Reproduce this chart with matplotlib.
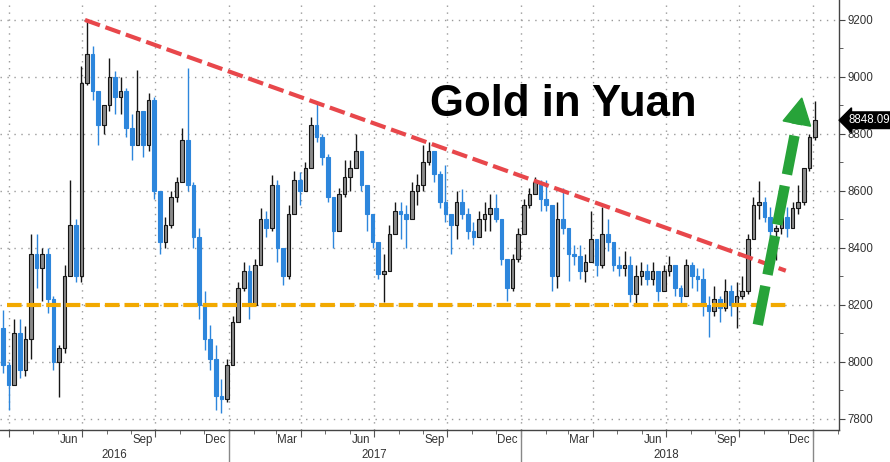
import matplotlib
matplotlib.use('Agg')
import numpy as np
import pandas as pd
import matplotlib.pyplot as plt
import matplotlib.dates as mdates
import matplotlib.transforms as mtransforms
from matplotlib.patches import Polygon

plt.rcParams['font.family'] = ['Liberation Sans', 'DejaVu Sans']

# weekly candles (CNY per oz), first week starts 2016-03-21
first_open = 8120
close = [
    7990, 7920, 8100, 7970, 8080, 8380, 8330, 8380, 8220, 8000,
    8050, 8300, 8480, 8300, 8980, 9080, 8950, 8830, 8900, 9000,
    8930, 8950, 8820, 8760, 8880, 8760, 8920, 8600, 8420, 8480,
    8580, 8630, 8780, 8620, 8440, 8200, 8080, 8010, 7880, 7870,
    7990, 8140, 8260, 8320, 8200, 8340, 8500, 8470, 8620, 8400,
    8300, 8520, 8640, 8600, 8680, 8830, 8790, 8720, 8580, 8460,
    8590, 8650, 8680, 8740, 8620, 8520, 8420, 8310, 8320, 8450,
    8530, 8520, 8500, 8600, 8620, 8700, 8740, 8660, 8560, 8520,
    8480, 8560, 8520, 8460, 8440, 8500, 8520, 8540, 8500, 8360,
    8260, 8360, 8450, 8550, 8590, 8630, 8570, 8550, 8300, 8500,
    8470, 8380, 8370, 8320, 8350, 8430, 8340, 8450, 8420, 8340,
    8330, 8340, 8240, 8300, 8320, 8290, 8320, 8250, 8320, 8340,
    8260, 8230, 8340, 8300, 8290, 8200, 8180, 8220, 8190, 8250,
    8200, 8230, 8250, 8430, 8550, 8560, 8510, 8460, 8470, 8510,
    8470, 8540, 8560, 8680, 8790, 8848.09]
high = [
    8182, 8000, 8150, 8150, 8125, 8450, 8450, 8400, 8400, 8230,
    8060, 8340, 8640, 8500, 9040, 9200, 9110, 8950, 8900, 9065,
    9020, 9000, 8960, 8870, 9025, 8880, 8945, 8930, 8600, 8510,
    8600, 8650, 8820, 9030, 8630, 8470, 8250, 8130, 8060, 7940,
    8010, 8160, 8280, 8350, 8340, 8360, 8540, 8530, 8655, 8640,
    8380, 8550, 8670, 8665, 8700, 8860, 8905, 8800, 8730, 8540,
    8610, 8710, 8710, 8800, 8740, 8620, 8520, 8420, 8380, 8480,
    8560, 8560, 8550, 8630, 8660, 8760, 8770, 8740, 8670, 8690,
    8520, 8600, 8605, 8540, 8490, 8530, 8560, 8590, 8590, 8500,
    8350, 8380, 8470, 8570, 8610, 8650, 8640, 8640, 8540, 8560,
    8610, 8440, 8410, 8410, 8380, 8530, 8430, 8545, 8500, 8410,
    8370, 8390, 8370, 8340, 8350, 8345, 8350, 8300, 8340, 8370,
    8340, 8270, 8360, 8350, 8330, 8330, 8230, 8265, 8230, 8290,
    8270, 8280, 8300, 8450, 8580, 8636, 8580, 8545, 8480, 8530,
    8545, 8560, 8620, 8680, 8800, 8917]
low = [
    7960, 7832, 7930, 7945, 7950, 8010, 8260, 8215, 8170, 7970,
    7877, 8030, 8310, 8280, 8280, 8970, 8920, 8760, 8800, 8880,
    8870, 8870, 8790, 8710, 8760, 8720, 8740, 8570, 8380, 8400,
    8470, 8560, 8630, 8600, 8400, 8150, 8040, 7970, 7830, 7820,
    7860, 7990, 8140, 8250, 8150, 8200, 8340, 8440, 8460, 8350,
    8270, 8290, 8520, 8550, 8600, 8680, 8770, 8690, 8560, 8400,
    8460, 8580, 8600, 8680, 8600, 8460, 8400, 8290, 8210, 8320,
    8450, 8430, 8400, 8500, 8550, 8600, 8690, 8630, 8540, 8490,
    8380, 8430, 8500, 8430, 8410, 8440, 8460, 8460, 8490, 8340,
    8212, 8250, 8350, 8450, 8540, 8590, 8530, 8530, 8250, 8260,
    8450, 8284, 8340, 8290, 8280, 8360, 8300, 8330, 8390, 8320,
    8300, 8300, 8210, 8202, 8270, 8270, 8270, 8215, 8250, 8300,
    8230, 8205, 8230, 8260, 8250, 8160, 8086, 8160, 8140, 8180,
    8160, 8120, 8220, 8240, 8430, 8500, 8490, 8440, 8356, 8450,
    8437, 8470, 8520, 8550, 8670, 8777]

# trend annotations (date, value)
resist_line = (['2016-07-05', '2018-11-28'], [9200, 8320])
support_line = (['2016-03-29', '2018-11-28'], [8200, 8200])
arrow_pts = (['2018-10-24', '2018-12-18'], [8130, 8926])

year_labels = ['2016', '2017', '2018']
year_mid = ['2016-07-01', '2017-07-01', '2018-07-01']
month_labels = ['Jun', 'Sep', 'Dec', 'Mar', 'Jun', 'Sep', 'Dec', 'Mar', 'Jun', 'Sep', 'Dec']
month_mid = ['2016-06-15', '2016-09-15', '2016-12-15', '2017-03-15', '2017-06-15', '2017-09-15',
             '2017-12-15', '2018-03-15', '2018-06-15', '2018-09-15', '2018-12-15']
last_price = 8848.09

close = np.array(close, dtype=float)
high = np.array(high, dtype=float)
low = np.array(low, dtype=float)
opens = np.r_[first_open, close[:-1]]
weeks = pd.date_range('2016-03-21', periods=len(close), freq='7D')
xd = mdates.date2num(weeks) + 3.5
up = close >= opens

fig = plt.figure(figsize=(8.9, 4.62), dpi=100)
ax = fig.add_axes([0, 32 / 462, 839 / 890, 430 / 462])

# ticks / grid first (set_ticks can widen the view), limits afterwards
ax.set_yticks(np.arange(7800, 9201, 200))
ax.set_yticks(np.arange(7800, 9201, 100), minor=True)
ax.yaxis.grid(True, which='major', linestyle=(0, (1, 4)), color='#9a9a9a', lw=1)
quarters = pd.date_range('2016-01-01', '2019-01-01', freq='QS')
months = pd.date_range('2016-01-01', '2019-03-01', freq='MS')
ax.set_xticks(mdates.date2num(quarters))
ax.set_xticks(mdates.date2num(months), minor=True)
ax.xaxis.grid(True, which='major', linestyle=(0, (1, 4)), color='#9a9a9a', lw=1)
ax.set_axisbelow(True)
ax.set_xticklabels([])

jan17 = mdates.date2num(pd.Timestamp('2017-01-01'))
ax.set_xlim(jan17 - 229 / 0.8, jan17 + 610 / 0.8)
ax.set_ylim(7761, 9270)

# candles
up_col, up_edge, dn_col = '#8a8a8a', '#161616', '#2d86dc'
lo_w = np.minimum(low, np.minimum(opens, close))
hi_w = np.maximum(high, np.maximum(opens, close))
ax.vlines(xd[up], lo_w[up], hi_w[up], color=up_edge, lw=1, zorder=3)
ax.vlines(xd[~up], lo_w[~up], hi_w[~up], color=dn_col, lw=1, zorder=3)
body_lo = np.minimum(opens, close)
body_h = np.abs(close - opens)
ax.bar(xd[up], body_h[up], bottom=body_lo[up], width=4.6, color=up_col, edgecolor=up_edge, lw=0.8, zorder=4)
ax.bar(xd[~up], body_h[~up], bottom=body_lo[~up], width=4.6, color=dn_col, edgecolor=dn_col, lw=0.8, zorder=4)
ax.set_xlim(jan17 - 229 / 0.8, jan17 + 610 / 0.8)
ax.set_ylim(7761, 9270)

# trend lines
ax.plot(mdates.datestr2num(resist_line[0]), resist_line[1], color='#e8474b', lw=3,
        linestyle=(0, (3.8, 1.4)), dash_capstyle='butt', zorder=5)
ax.plot(mdates.datestr2num(support_line[0]), support_line[1], color='#f2a900', lw=3,
        linestyle=(0, (3.5, 1.2)), dash_capstyle='butt', zorder=5)

# green dashed arrow
p0 = ax.transData.transform((mdates.datestr2num(arrow_pts[0][0]), arrow_pts[1][0]))
p1 = ax.transData.transform((mdates.datestr2num(arrow_pts[0][1]), arrow_pts[1][1]))
d = p1 - p0
u = d / np.hypot(*d)
nrm = np.array([-u[1], u[0]])
head_len, head_w = 26, 14
base = p1 - u * head_len
shaft = np.array([p0, base + u * 2])
ax.plot(shaft[:, 0], shaft[:, 1], transform=None, color='#27a339', lw=7.5,
        linestyle=(0, (3.8, 1.1)), dash_capstyle='butt', zorder=6)
head = Polygon([base + nrm * head_w, p1, base - nrm * head_w], closed=True,
               transform=None, color='#27a339', zorder=6)
ax.add_patch(head)

# title
fig.text(563 / 890, (462 - 105) / 462, 'Gold in Yuan', fontsize=31.5, fontweight='bold',
         ha='center', va='center', color='black')

# axes styling
for s in ['left', 'top']:
    ax.spines[s].set_visible(False)
for s in ['right', 'bottom']:
    ax.spines[s].set_color('#444444')
    ax.spines[s].set_linewidth(1)
ax.yaxis.tick_right()
ax.tick_params(axis='y', which='major', direction='out', length=4, color='#444444',
               labelsize=8.3, labelcolor='#333333', pad=2)
ax.tick_params(axis='y', which='minor', direction='out', length=3, color='#444444')
ax.tick_params(axis='x', which='major', direction='out', length=5, color='#555555')
ax.tick_params(axis='x', which='minor', direction='out', length=3, color='#555555')

tb = mtransforms.blended_transform_factory(ax.transData, ax.transAxes)
for lab, dt in zip(month_labels, month_mid):
    ax.text(mdates.datestr2num(dt), -10 / 430, lab, transform=tb, ha='center', va='center',
            fontsize=8.3, color='#333333')
for lab, dt in zip(year_labels, year_mid):
    xx = mdates.datestr2num(dt)
    if lab == '2016':
        xx = (ax.get_xlim()[0] + jan17) / 2
    ax.text(xx, -25 / 430, lab, transform=tb, ha='center', va='center',
            fontsize=8.3, color='#333333')
for yr in ['2017-01-01', '2018-01-01', '2019-01-01']:
    xx = mdates.datestr2num(yr)
    ax.plot([xx, xx], [0, -32 / 430], transform=tb, color='#888888', lw=1, clip_on=False)

# last price tag
ty = mtransforms.blended_transform_factory(ax.transAxes, ax.transData)
ax.text(848 / 839, last_price, f'{last_price:.2f}', transform=ty, ha='left', va='center',
        fontsize=8.3, color='white', zorder=7,
        bbox=dict(boxstyle='larrow,pad=0.2', fc='black', ec='black'))

fig.savefig('out.png', dpi=100)
